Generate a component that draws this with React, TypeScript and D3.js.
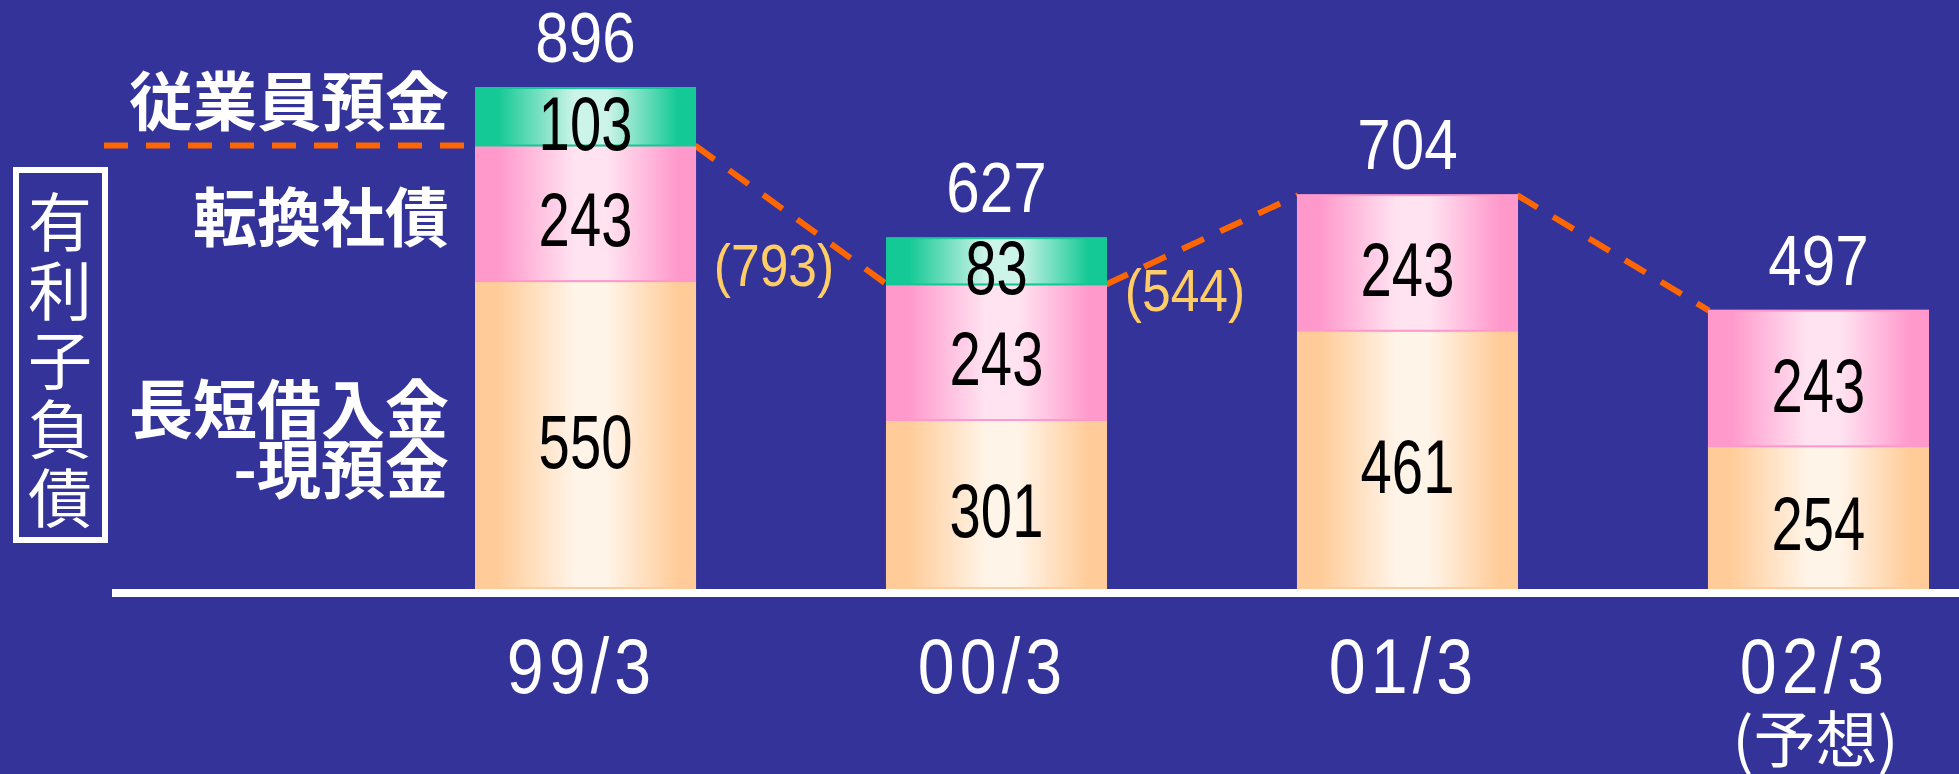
import React from "react";
import * as d3 from "d3";

// categories (fiscal year-end) and the stacked series, bottom to top
const categories = ["99/3", "00/3", "01/3", "02/3"];
const subLabels = ["", "", "", "(予想)"];
const loansNetCash = [550, 301, 461, 254]; // 長短借入金-現預金
const convertibleBonds = [243, 243, 243, 243]; // 転換社債
const employeeDeposits = [103, 83, 0, 0]; // 従業員預金
// debt excluding employee deposits (dashed line)
const debtExDeposits = [793, 544, 704, 497];

const seriesKeys = ["loans", "bonds", "deposits"];
const seriesLabels = [["長短借入金", "-現預金"], ["転換社債"], ["従業員預金"]];
const axisTitle = "有利子負債";

const W = 1959;
const H = 774;
const BG = "#333399";
const SANS = "'Liberation Sans', Arial, sans-serif";
const CJK = "'Noto Sans CJK JP', 'Noto Sans', sans-serif";

const fills = [
  { id: "gLoans", edge: "#FFCC99", light: "#FFF4E8" },
  { id: "gBonds", edge: "#FF99CC", light: "#FFE3F1" },
  { id: "gDeposits", edge: "#14C995", light: "#CDF4E8" },
];

// condensed text: no narrow face is installed, so squeeze horizontally
const Narrow: React.FC<{
  x: number;
  y: number;
  size: number;
  sx: number;
  fill: string;
  spacing?: number;
  children: React.ReactNode;
}> = ({ x, y, size, sx, fill, spacing = 0, children }) => (
  <text
    transform={`translate(${x},${y}) scale(${sx},1)`}
    textAnchor="middle"
    fontFamily={SANS}
    fontSize={size}
    letterSpacing={spacing}
    fill={fill}
  >
    {children}
  </text>
);

const App: React.FC = () => {
  const rows = categories.map((c, i) => ({
    cat: c,
    loans: loansNetCash[i],
    bonds: convertibleBonds[i],
    deposits: employeeDeposits[i],
  }));
  const stacked = d3.stack<any>().keys(seriesKeys)(rows);

  const x = d3
    .scaleBand<string>()
    .domain(categories)
    .range([476, 1928])
    .paddingInner(0.467)
    .paddingOuter(0);
  const bw = x.bandwidth();
  const y = d3.scaleLinear().domain([0, 896]).range([588, 88]);

  const totals = rows.map((r) => r.loans + r.bonds + r.deposits);

  // dashed connectors between bar edges at the "ex deposits" level
  const line = d3.line<[number, number]>();
  const segs: [number, number][][] = [];
  segs.push([
    [104, y(debtExDeposits[0])],
    [x(categories[0])!, y(debtExDeposits[0])],
  ]);
  for (let i = 0; i < categories.length - 1; i++) {
    segs.push([
      [x(categories[i])! + bw, y(debtExDeposits[i])],
      [x(categories[i + 1])!, y(debtExDeposits[i + 1])],
    ]);
  }

  const labelRight = 449;

  return (
    <svg
      width={W}
      height={H}
      style={{ position: "absolute", left: 0, top: 0, display: "block" }}
    >
      <defs>
        {fills.map((f) => (
          <linearGradient key={f.id} id={f.id} x1="0" x2="1" y1="0" y2="0">
            <stop offset="0" stopColor={f.edge} />
            <stop offset="0.1" stopColor={f.edge} />
            <stop offset="0.45" stopColor={f.light} />
            <stop offset="0.6" stopColor={f.light} />
            <stop offset="0.92" stopColor={f.edge} />
            <stop offset="1" stopColor={f.edge} />
          </linearGradient>
        ))}
      </defs>
      <rect x={0} y={0} width={W} height={H} fill={BG} />

      {/* dashed line */}
      {segs.map((s, i) => (
        <path
          key={i}
          d={line(s) || ""}
          fill="none"
          stroke="#FF6600"
          strokeWidth={6}
          strokeDasharray="24 18"
        />
      ))}

      {/* stacked bars */}
      {stacked.map((layer, li) => (
        <g key={layer.key}>
          {layer.map((d, i) => {
            const h = y(d[0]) - y(d[1]);
            if (h <= 0) return null;
            const cx = x(categories[i])! + bw / 2;
            const cy = (y(d[0]) + y(d[1])) / 2 + 6;
            return (
              <g key={i}>
                <rect
                  x={x(categories[i])}
                  y={y(d[1])}
                  width={bw}
                  height={h}
                  fill={`url(#${fills[li].id})`}
                  stroke={fills[li].edge}
                  strokeWidth={2}
                />
                <Narrow x={cx} y={cy + 0.358 * 76} size={76} sx={0.74} fill="#000">
                  {d[1] - d[0]}
                </Narrow>
              </g>
            );
          })}
        </g>
      ))}

      {/* totals */}
      {totals.map((t, i) => (
        <Narrow
          key={i}
          x={x(categories[i])! + bw / 2}
          y={y(t) - 26}
          size={70}
          sx={0.86}
          fill="#fff"
        >
          {t}
        </Narrow>
      ))}

      {/* notes: total excluding deposits */}
      {debtExDeposits.slice(0, -1).map((v, i) => {
        if (employeeDeposits[i] <= 0) return null;
        const x0 = x(categories[i])! + bw;
        const x1 = x(categories[i + 1])!;
        const mx = (x0 + x1) / 2 - 17;
        const my = (y(v) + y(debtExDeposits[i + 1])) / 2 + 50;
        return (
          <Narrow key={i} x={mx} y={my + 0.358 * 60} size={60} sx={0.86} fill="#FFCC66">
            ({v})
          </Narrow>
        );
      })}

      {/* baseline */}
      <rect x={112} y={589} width={W - 112} height={8} fill="#fff" />

      {/* category labels */}
      {categories.map((c, i) => (
        <g key={c}>
          <Narrow
            x={x(c)! + bw / 2 - 4}
            y={693}
            size={78}
            sx={0.85}
            spacing={6}
            fill="#fff"
          >
            {c}
          </Narrow>
          {subLabels[i] && (
            <text
              x={x(c)! + bw / 2 - 3}
              y={736}
              textAnchor="middle"
              dominantBaseline="central"
              fontFamily={CJK}
              fontSize={62}
              fill="#fff"
            >
              {subLabels[i]}
            </text>
          )}
        </g>
      ))}

      {/* series labels next to the first bar */}
      {stacked.map((layer, li) => {
        const d = layer[0];
        const mid = Math.min((y(d[0]) + y(d[1])) / 2, y(d[0]) - 48);
        const lines = seriesLabels[li];
        return (
          <text
            key={li}
            textAnchor="end"
            dominantBaseline="central"
            fontFamily={CJK}
            fontWeight={700}
            fontSize={64}
            fill="#fff"
          >
            {lines.map((t, k) => (
              <tspan
                key={k}
                x={labelRight}
                y={mid + (k - (lines.length - 1) / 2) * 60}
              >
                {t}
              </tspan>
            ))}
          </text>
        );
      })}

      {/* boxed vertical axis title */}
      <rect x={16} y={170} width={89} height={370} fill="none" stroke="#fff" strokeWidth={6} />
      <text
        textAnchor="middle"
        dominantBaseline="central"
        fontFamily={CJK}
        fontSize={64}
        fill="#fff"
      >
        {Array.from(axisTitle).map((ch, i) => (
          <tspan key={i} x={60} y={218 + i * 69}>
            {ch}
          </tspan>
        ))}
      </text>
    </svg>
  );
};

export default App;
